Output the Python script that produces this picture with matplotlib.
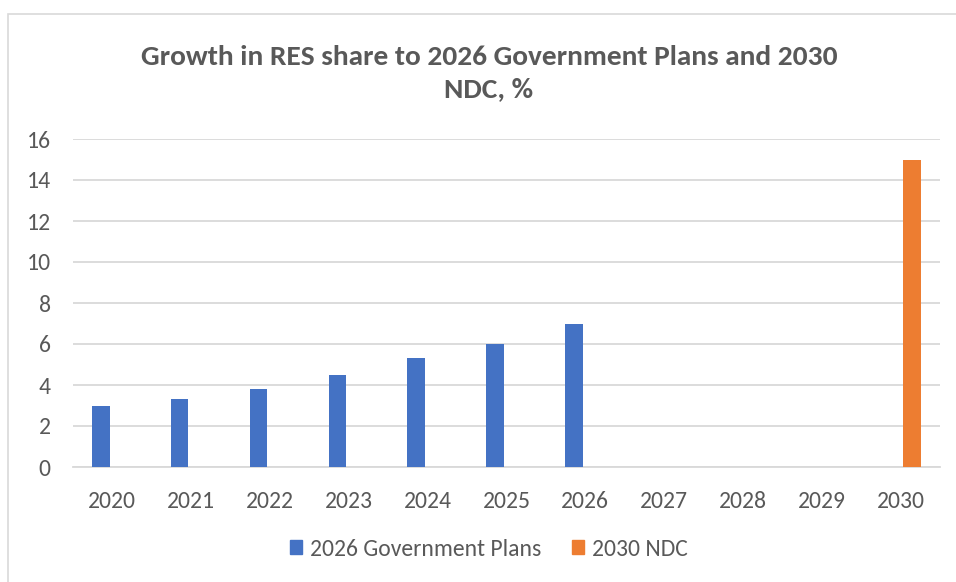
import matplotlib
matplotlib.use("Agg")
import matplotlib.pyplot as plt
from matplotlib import font_manager
from matplotlib.patches import Rectangle, Patch
import numpy as np

categories = ["2020", "2021", "2022", "2023", "2024", "2025", "2026", "2027", "2028", "2029", "2030"]
gov_plans = [3.0, 3.3, 3.8, 4.5, 5.3, 6.0, 7.0, None, None, None, None]
ndc_2030 = [None, None, None, None, None, None, None, None, None, None, 15.0]
series_names = ["2026 Government Plans", "2030 NDC"]
title = "Growth in RES share to 2026 Government Plans and 2030\nNDC, %"
yticks = [0, 2, 4, 6, 8, 10, 12, 14, 16]

avail = {f.name for f in font_manager.fontManager.ttflist}
fam = "Carlito" if "Carlito" in avail else "Lato"
plt.rcParams['font.family'] = [fam, 'DejaVu Sans']

BLUE = "#4472C4"
ORANGE = "#ED7D31"
TXT = "#595959"
GRID = "#D9D9D9"

fig = plt.figure(figsize=(9.56, 5.82), dpi=100)
fig.patches.append(Rectangle((8/956, -0.1), 1.2, 1 - 14/582 + 0.1, transform=fig.transFigure,
                             fill=False, edgecolor="#D9D9D9", linewidth=1.2))
ax = fig.add_axes([73/956, 1 - 467/582, (940 - 73)/956, (467 - 139)/582])

x = np.arange(len(categories))
w = 0.222
off = 0.146
gx = [xi - off for xi, v in zip(x, gov_plans) if v is not None]
gv = [v for v in gov_plans if v is not None]
nx = [xi + off for xi, v in zip(x, ndc_2030) if v is not None]
nv = [v for v in ndc_2030 if v is not None]
ax.bar(gx, gv, width=w, color=BLUE, zorder=3)
ax.bar(nx, nv, width=w, color=ORANGE, zorder=3)

ax.set_xlim(-0.5, len(categories) - 0.5)
ax.set_ylim(0, 16)
ax.set_yticks(yticks)
ax.set_xticks(x)
ax.set_xticklabels(categories)
ax.grid(axis="y", color=GRID, linewidth=1.3, zorder=0)
for s in ["top", "right", "left"]:
    ax.spines[s].set_visible(False)
ax.spines["bottom"].set_color(GRID)
ax.spines["bottom"].set_linewidth(1.3)
ax.tick_params(axis="both", length=0, labelsize=17, labelcolor=TXT)
ax.tick_params(axis="x", pad=17)
ax.tick_params(axis="y", pad=16)

fig.text(489/956, 1 - 73/582, title, ha="center", va="center", fontsize=21.2, fontweight="bold",
         color=TXT, linespacing=1.4)

handles = [Patch(color=BLUE), Patch(color=ORANGE)]
fig.legend(handles, series_names, loc="center", bbox_to_anchor=(0.5115, 1 - 549/582), ncol=2,
           frameon=False, fontsize=17, labelcolor=TXT, handlelength=0.5, handleheight=0.5,
           handletextpad=0.35, columnspacing=1.3)

fig.savefig("out.png", dpi=100)
